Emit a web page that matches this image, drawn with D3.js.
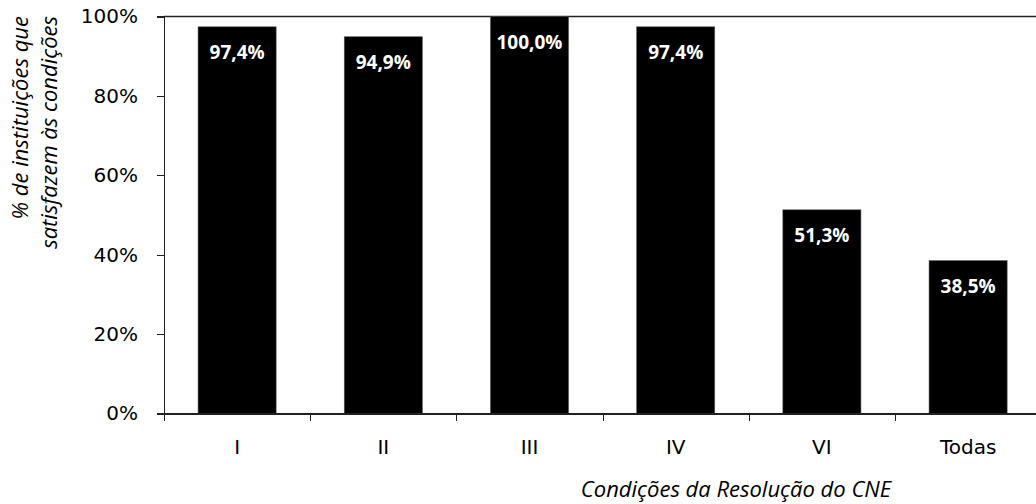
<!DOCTYPE html>
<html lang="pt">
<head>
    <meta charset="UTF-8">
    <title>Condições da Resolução do CNE</title>
    <script src="https://d3js.org/d3.v7.min.js"></script>
    <style>
        body { margin: 0; background: #fff; }
        .axis path, .axis line { stroke: #222; stroke-width: 1.3; shape-rendering: crispEdges; }
        .axis text { font-family: "DejaVu Sans", Verdana, sans-serif; font-size: 20px; fill: #000; }
        .bar { fill: #000; stroke: #555; stroke-width: 0.6; }
        .bar-label { font-family: "Open Sans", sans-serif; font-weight: bold; font-size: 19px; fill: #fff; }
        .title { font-family: "Open Sans", sans-serif; font-style: italic; font-size: 22px; fill: #000; }
    </style>
</head>
<body>
<svg width="1036" height="504"></svg>
<script>
    // data
    const categories = ['I', 'II', 'III', 'IV', 'VI', 'Todas'];
    const values = [0.974, 0.949, 1.0, 0.974, 0.513, 0.385];
    const valueLabels = ['97,4%', '94,9%', '100,0%', '97,4%', '51,3%', '38,5%'];
    const yTicks = [0, 0.2, 0.4, 0.6, 0.8, 1.0];

    const svg = d3.select("svg");

    const x = d3.scaleBand()
        .domain(categories)
        .range([164, 164 + 6 * 146.2])
        .paddingInner(0.466)
        .paddingOuter(0.233);

    const y = d3.scaleLinear()
        .domain([0, 1])
        .range([413.5, 16.5]);

    // top border of the plot
    svg.append("line")
        .attr("x1", 164).attr("x2", 1036)
        .attr("y1", y(1)).attr("y2", y(1))
        .attr("stroke", "#222").attr("stroke-width", 1.3);

    // bars
    svg.selectAll(".bar")
        .data(categories)
        .enter().append("rect")
        .attr("class", "bar")
        .attr("x", d => x(d))
        .attr("y", (d, i) => y(values[i]))
        .attr("width", x.bandwidth())
        .attr("height", (d, i) => y(0) - y(values[i]));

    svg.selectAll(".bar-label")
        .data(categories)
        .enter().append("text")
        .attr("class", "bar-label")
        .attr("x", d => x(d) + x.bandwidth() / 2)
        .attr("y", (d, i) => y(values[i]) + 32)
        .attr("text-anchor", "middle")
        .text((d, i) => valueLabels[i]);

    // y axis
    svg.append("g")
        .attr("class", "axis")
        .attr("transform", "translate(164,0)")
        .call(d3.axisLeft(y)
            .tickValues(yTicks)
            .tickFormat(d => Math.round(d * 100) + "%")
            .tickSize(7)
            .tickPadding(19)
            .tickSizeOuter(0))
        .select(".domain")
        .attr("d", `M0.5,${y(1)}V${y(0) + 7}`);

    // x axis: labels centred on the bars, tick marks between categories
    const xAxis = svg.append("g")
        .attr("class", "axis")
        .attr("transform", `translate(0,${y(0)})`)
        .call(d3.axisBottom(x).tickSize(0).tickPadding(26).tickSizeOuter(0));
    xAxis.select(".domain").attr("d", "M164,0.5H1036");

    const gap = (x.step() - x.bandwidth()) / 2;
    xAxis.selectAll(".sep")
        .data(categories)
        .enter().append("line")
        .attr("x1", d => Math.round(x(d) - gap) + 0.5)
        .attr("x2", d => Math.round(x(d) - gap) + 0.5)
        .attr("y1", 0).attr("y2", 7);

    // axis titles
    const yTitle = svg.append("text")
        .attr("class", "title")
        .attr("transform", "rotate(-90)")
        .attr("text-anchor", "end");
    yTitle.append("tspan").attr("x", -16).attr("y", 28).text("% de instituições que");
    yTitle.append("tspan").attr("x", -16).attr("y", 57).text("satisfazem às condições");

    svg.append("text")
        .attr("class", "title")
        .attr("x", 736)
        .attr("y", 497)
        .attr("text-anchor", "middle")
        .text("Condições da Resolução do CNE");
</script>
</body>
</html>
